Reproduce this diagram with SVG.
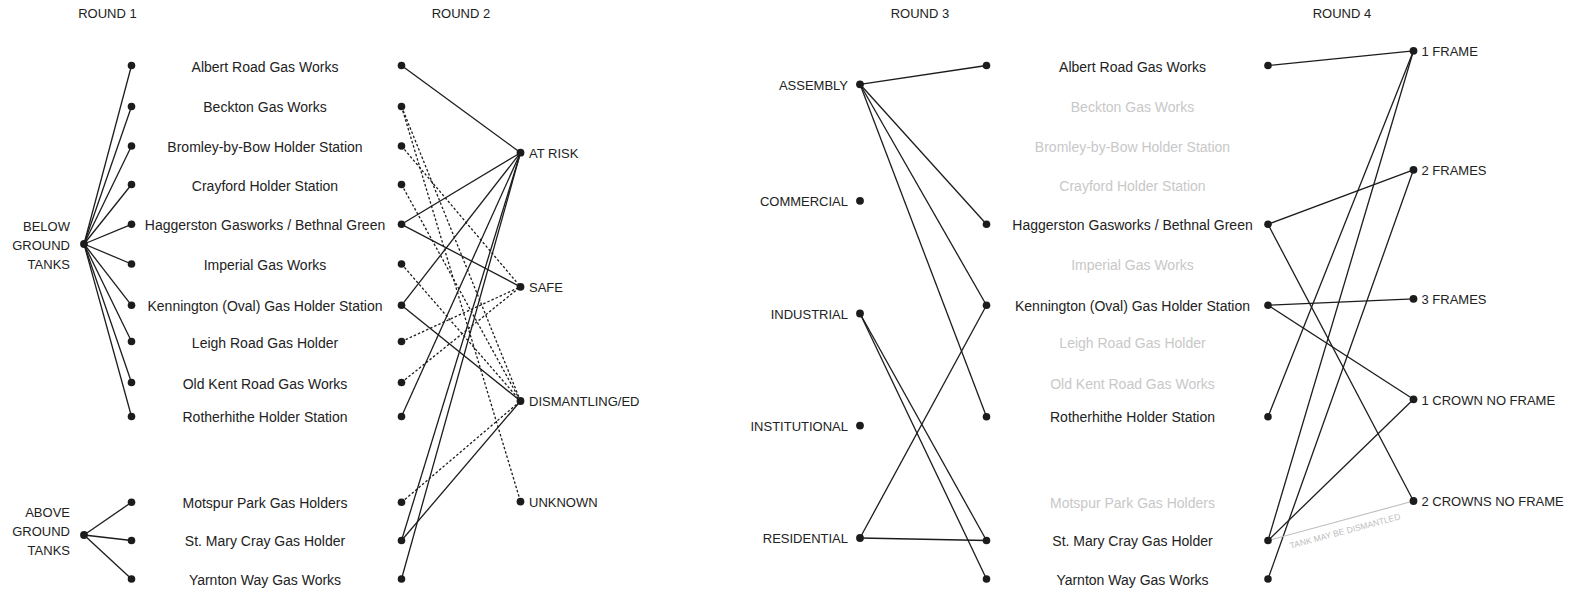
<svg xmlns="http://www.w3.org/2000/svg" width="1573" height="592" viewBox="0 0 1573 592">
<style>
.bg{fill:#ffffff}
.dot{fill:#1c1c1c}
.t{font-family:"Liberation Sans",Arial,sans-serif;font-size:14px;fill:#222222}
.c{font-family:"Liberation Sans",Arial,sans-serif;font-size:13px;fill:#222222}
.m{text-anchor:middle}
.e{text-anchor:end}
.g{fill:#c8c8c8}
.ln{stroke:#1c1c1c;stroke-width:1.3;fill:none}
.dt{stroke-dasharray:2.5 2}
.gl{stroke:#bdbdbd;stroke-width:1.1;fill:none}
.small{font-family:"Liberation Sans",Arial,sans-serif;font-size:8.6px;fill:#bdbdbd}
</style>
<rect class="bg" x="0" y="0" width="1573" height="592"/>

<g id="titles">
<text class="c m" x="107.5" y="18">ROUND 1</text>
<text class="c m" x="461" y="18">ROUND 2</text>
<text class="c m" x="920" y="18">ROUND 3</text>
<text class="c m" x="1342" y="18">ROUND 4</text>
</g>

<g id="connectors">
<!-- Round 1 -->
<line class="ln" x1="84" y1="244" x2="131.5" y2="65.5"/>
<line class="ln" x1="84" y1="244" x2="131.5" y2="106.5"/>
<line class="ln" x1="84" y1="244" x2="131.5" y2="146"/>
<line class="ln" x1="84" y1="244" x2="131.5" y2="184.5"/>
<line class="ln" x1="84" y1="244" x2="131.5" y2="224.3"/>
<line class="ln" x1="84" y1="244" x2="131.5" y2="264"/>
<line class="ln" x1="84" y1="244" x2="131.5" y2="305.3"/>
<line class="ln" x1="84" y1="244" x2="131.5" y2="341.5"/>
<line class="ln" x1="84" y1="244" x2="131.5" y2="382.5"/>
<line class="ln" x1="84" y1="244" x2="131.5" y2="416.5"/>
<line class="ln" x1="84" y1="535" x2="131.5" y2="502.3"/>
<line class="ln" x1="84" y1="535" x2="131.5" y2="540.5"/>
<line class="ln" x1="84" y1="535" x2="131.5" y2="579"/>
<!-- Round 2 solid -->
<line class="ln" x1="401.5" y1="65.5" x2="520.5" y2="152.7"/>
<line class="ln" x1="401.5" y1="224.3" x2="520.5" y2="152.7"/>
<line class="ln" x1="401.5" y1="224.3" x2="520.5" y2="286.8"/>
<line class="ln" x1="401.5" y1="305.3" x2="520.5" y2="152.7"/>
<line class="ln" x1="401.5" y1="305.3" x2="520.5" y2="401"/>
<line class="ln" x1="401.5" y1="416.5" x2="520.5" y2="152.7"/>
<line class="ln" x1="401.5" y1="540.5" x2="520.5" y2="152.7"/>
<line class="ln" x1="401.5" y1="540.5" x2="520.5" y2="401"/>
<line class="ln" x1="401.5" y1="579" x2="520.5" y2="152.7"/>
<!-- Round 2 dotted -->
<line class="ln dt" x1="401.5" y1="106.5" x2="520.5" y2="401"/>
<line class="ln dt" x1="401.5" y1="106.5" x2="520.5" y2="501.6"/>
<line class="ln dt" x1="401.5" y1="146" x2="520.5" y2="286.8"/>
<line class="ln dt" x1="401.5" y1="184.5" x2="520.5" y2="401"/>
<line class="ln dt" x1="401.5" y1="264" x2="520.5" y2="401"/>
<line class="ln dt" x1="401.5" y1="341.5" x2="520.5" y2="286.8"/>
<line class="ln dt" x1="401.5" y1="382.5" x2="520.5" y2="286.8"/>
<line class="ln dt" x1="401.5" y1="502.3" x2="520.5" y2="401"/>
<!-- Round 3 -->
<line class="ln" x1="860" y1="84.3" x2="986.5" y2="65.5"/>
<line class="ln" x1="860" y1="84.3" x2="986.5" y2="224.3"/>
<line class="ln" x1="860" y1="84.3" x2="986.5" y2="305.3"/>
<line class="ln" x1="860" y1="84.3" x2="986.5" y2="416.8"/>
<line class="ln" x1="860" y1="313.5" x2="986.5" y2="540.5"/>
<line class="ln" x1="860" y1="313.5" x2="986.5" y2="579"/>
<line class="ln" x1="860" y1="538" x2="986.5" y2="305.3"/>
<line class="ln" x1="860" y1="538" x2="986.5" y2="540.5"/>
<!-- Round 4 -->
<line class="ln" x1="1268" y1="65.5" x2="1413.5" y2="50.8"/>
<line class="ln" x1="1268" y1="224.3" x2="1413.5" y2="169.8"/>
<line class="ln" x1="1268" y1="224.3" x2="1413.5" y2="501"/>
<line class="ln" x1="1268" y1="305.3" x2="1413.5" y2="298.8"/>
<line class="ln" x1="1268" y1="305.3" x2="1413.5" y2="399.3"/>
<line class="ln" x1="1268" y1="416.8" x2="1413.5" y2="50.8"/>
<line class="ln" x1="1268" y1="540.5" x2="1413.5" y2="50.8"/>
<line class="ln" x1="1268" y1="540.5" x2="1413.5" y2="399.3"/>
<line class="ln" x1="1268" y1="579" x2="1413.5" y2="169.8"/>
<line class="gl" x1="1268" y1="540.5" x2="1413.5" y2="501"/>
<text class="small" text-anchor="middle" transform="translate(1345,531) rotate(-15)" x="0" y="3">TANK MAY BE DISMANTLED</text>
</g>

<!-- Round 1 hubs -->
<g id="below-ground-tanks">
<circle class="dot" cx="84" cy="244" r="3.9"/>
<text class="c e" x="70" y="230.7">BELOW</text>
<text class="c e" x="70" y="249.7">GROUND</text>
<text class="c e" x="70" y="268.7">TANKS</text>
</g>
<g id="above-ground-tanks">
<circle class="dot" cx="84" cy="535" r="3.9"/>
<text class="c e" x="70" y="517">ABOVE</text>
<text class="c e" x="70" y="536">GROUND</text>
<text class="c e" x="70" y="555">TANKS</text>
</g>

<!-- Round 1/2 sites -->
<g id="r12-albert"><circle class="dot" cx="131.5" cy="65.5" r="3.8"/><circle class="dot" cx="401.5" cy="65.5" r="3.8"/><text class="t m" x="265" y="71.5">Albert Road Gas Works</text></g>
<g id="r12-beckton"><circle class="dot" cx="131.5" cy="106.5" r="3.8"/><circle class="dot" cx="401.5" cy="106.5" r="3.8"/><text class="t m" x="265" y="112">Beckton Gas Works</text></g>
<g id="r12-bromley"><circle class="dot" cx="131.5" cy="146" r="3.8"/><circle class="dot" cx="401.5" cy="146" r="3.8"/><text class="t m" x="265" y="152">Bromley-by-Bow Holder Station</text></g>
<g id="r12-crayford"><circle class="dot" cx="131.5" cy="184.5" r="3.8"/><circle class="dot" cx="401.5" cy="184.5" r="3.8"/><text class="t m" x="265" y="190.5">Crayford Holder Station</text></g>
<g id="r12-haggerston"><circle class="dot" cx="131.5" cy="224.3" r="3.8"/><circle class="dot" cx="401.5" cy="224.3" r="3.8"/><text class="t m" x="265" y="230.3">Haggerston Gasworks / Bethnal Green</text></g>
<g id="r12-imperial"><circle class="dot" cx="131.5" cy="264" r="3.8"/><circle class="dot" cx="401.5" cy="264" r="3.8"/><text class="t m" x="265" y="270">Imperial Gas Works</text></g>
<g id="r12-kennington"><circle class="dot" cx="131.5" cy="305.3" r="3.8"/><circle class="dot" cx="401.5" cy="305.3" r="3.8"/><text class="t m" x="265" y="311.3">Kennington (Oval) Gas Holder Station</text></g>
<g id="r12-leigh"><circle class="dot" cx="131.5" cy="341.5" r="3.8"/><circle class="dot" cx="401.5" cy="341.5" r="3.8"/><text class="t m" x="265" y="347.5">Leigh Road Gas Holder</text></g>
<g id="r12-oldkent"><circle class="dot" cx="131.5" cy="382.5" r="3.8"/><circle class="dot" cx="401.5" cy="382.5" r="3.8"/><text class="t m" x="265" y="388.5">Old Kent Road Gas Works</text></g>
<g id="r12-rotherhithe"><circle class="dot" cx="131.5" cy="416.5" r="3.8"/><circle class="dot" cx="401.5" cy="416.5" r="3.8"/><text class="t m" x="265" y="422">Rotherhithe Holder Station</text></g>
<g id="r12-motspur"><circle class="dot" cx="131.5" cy="502.3" r="3.8"/><circle class="dot" cx="401.5" cy="502.3" r="3.8"/><text class="t m" x="265" y="508">Motspur Park Gas Holders</text></g>
<g id="r12-stmary"><circle class="dot" cx="131.5" cy="540.5" r="3.8"/><circle class="dot" cx="401.5" cy="540.5" r="3.8"/><text class="t m" x="265" y="546">St. Mary Cray Gas Holder</text></g>
<g id="r12-yarnton"><circle class="dot" cx="131.5" cy="579" r="3.8"/><circle class="dot" cx="401.5" cy="579" r="3.8"/><text class="t m" x="265" y="584.5">Yarnton Way Gas Works</text></g>

<!-- Round 2 statuses -->
<g id="at-risk"><circle class="dot" cx="520.5" cy="152.7" r="3.9"/><text class="c" x="529" y="158">AT RISK</text></g>
<g id="safe"><circle class="dot" cx="520.5" cy="286.8" r="3.9"/><text class="c" x="529" y="292">SAFE</text></g>
<g id="dismantling"><circle class="dot" cx="520.5" cy="401" r="3.9"/><text class="c" x="529" y="406.2">DISMANTLING/ED</text></g>
<g id="unknown"><circle class="dot" cx="520.5" cy="501.6" r="3.9"/><text class="c" x="529" y="506.8">UNKNOWN</text></g>

<!-- Round 3 categories -->
<g id="assembly"><circle class="dot" cx="860" cy="84.3" r="3.9"/><text class="c e" x="848" y="89.5">ASSEMBLY</text></g>
<g id="commercial"><circle class="dot" cx="860" cy="200.8" r="3.9"/><text class="c e" x="848" y="206">COMMERCIAL</text></g>
<g id="industrial"><circle class="dot" cx="860" cy="313.5" r="3.9"/><text class="c e" x="848" y="318.7">INDUSTRIAL</text></g>
<g id="institutional"><circle class="dot" cx="860" cy="425.6" r="3.9"/><text class="c e" x="848" y="430.8">INSTITUTIONAL</text></g>
<g id="residential"><circle class="dot" cx="860" cy="538" r="3.9"/><text class="c e" x="848" y="543.2">RESIDENTIAL</text></g>

<!-- Round 3/4 sites -->
<g id="r34-albert"><circle class="dot" cx="986.5" cy="65.5" r="3.8"/><circle class="dot" cx="1268" cy="65.5" r="3.8"/><text class="t m" x="1132.5" y="71.5">Albert Road Gas Works</text></g>
<g id="r34-beckton"><text class="t m g" x="1132.5" y="112">Beckton Gas Works</text></g>
<g id="r34-bromley"><text class="t m g" x="1132.5" y="152">Bromley-by-Bow Holder Station</text></g>
<g id="r34-crayford"><text class="t m g" x="1132.5" y="190.5">Crayford Holder Station</text></g>
<g id="r34-haggerston"><circle class="dot" cx="986.5" cy="224.3" r="3.8"/><circle class="dot" cx="1268" cy="224.3" r="3.8"/><text class="t m" x="1132.5" y="230.3">Haggerston Gasworks / Bethnal Green</text></g>
<g id="r34-imperial"><text class="t m g" x="1132.5" y="270">Imperial Gas Works</text></g>
<g id="r34-kennington"><circle class="dot" cx="986.5" cy="305.3" r="3.8"/><circle class="dot" cx="1268" cy="305.3" r="3.8"/><text class="t m" x="1132.5" y="311.3">Kennington (Oval) Gas Holder Station</text></g>
<g id="r34-leigh"><text class="t m g" x="1132.5" y="347.5">Leigh Road Gas Holder</text></g>
<g id="r34-oldkent"><text class="t m g" x="1132.5" y="388.5">Old Kent Road Gas Works</text></g>
<g id="r34-rotherhithe"><circle class="dot" cx="986.5" cy="416.8" r="3.8"/><circle class="dot" cx="1268" cy="416.8" r="3.8"/><text class="t m" x="1132.5" y="422">Rotherhithe Holder Station</text></g>
<g id="r34-motspur"><text class="t m g" x="1132.5" y="508">Motspur Park Gas Holders</text></g>
<g id="r34-stmary"><circle class="dot" cx="986.5" cy="540.5" r="3.8"/><circle class="dot" cx="1268" cy="540.5" r="3.8"/><text class="t m" x="1132.5" y="546">St. Mary Cray Gas Holder</text></g>
<g id="r34-yarnton"><circle class="dot" cx="986.5" cy="579" r="3.8"/><circle class="dot" cx="1268" cy="579" r="3.8"/><text class="t m" x="1132.5" y="584.5">Yarnton Way Gas Works</text></g>

<!-- Round 4 types -->
<g id="one-frame"><circle class="dot" cx="1413.5" cy="50.8" r="3.9"/><text class="c" x="1421.5" y="56">1 FRAME</text></g>
<g id="two-frames"><circle class="dot" cx="1413.5" cy="169.8" r="3.9"/><text class="c" x="1421.5" y="175">2 FRAMES</text></g>
<g id="three-frames"><circle class="dot" cx="1413.5" cy="298.8" r="3.9"/><text class="c" x="1421.5" y="304">3 FRAMES</text></g>
<g id="one-crown"><circle class="dot" cx="1413.5" cy="399.3" r="3.9"/><text class="c" x="1421.5" y="404.5">1 CROWN NO FRAME</text></g>
<g id="two-crowns"><circle class="dot" cx="1413.5" cy="501" r="3.9"/><text class="c" x="1421.5" y="506.2">2 CROWNS NO FRAME</text></g>
</svg>
